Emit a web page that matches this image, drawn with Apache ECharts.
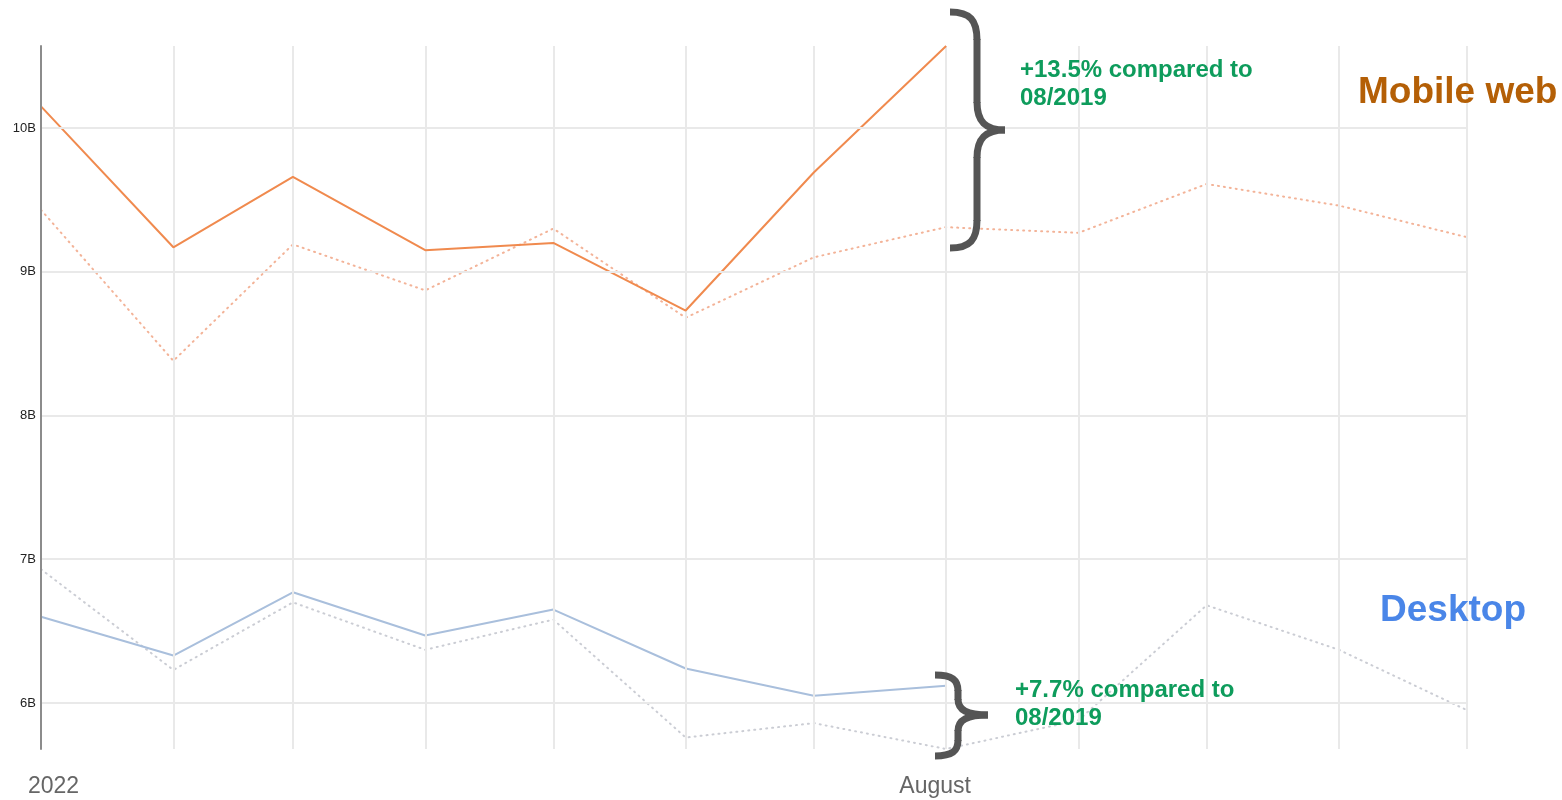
<!DOCTYPE html>
<html>
<head>
<meta charset="utf-8">
<title>Mobile web vs Desktop, 2022 vs 2019</title>
<script src="https://cdn.jsdelivr.net/npm/echarts@6/dist/echarts.min.js"></script>
<style>
  html, body { margin: 0; padding: 0; background: #ffffff; }
  #chart { width: 1562px; height: 800px; }
</style>
</head>
<body>
<div id="chart"></div>
<script>
// Month starts of 2022 (the time axis spaces them by real day counts)
const months = [
  '2022-01-01', '2022-02-01', '2022-03-01', '2022-04-01', '2022-05-01', '2022-06-01',
  '2022-07-01', '2022-08-01', '2022-09-01', '2022-10-01', '2022-11-01', '2022-12-01'
];

// Monthly visits, in billions
const mobile2022  = [10.15, 9.17, 9.66, 9.15, 9.20, 8.73, 9.69, 10.57];
const mobile2019  = [9.43, 8.38, 9.19, 8.87, 9.30, 8.68, 9.10, 9.31, 9.27, 9.61, 9.46, 9.24];
const desktop2022 = [6.60, 6.33, 6.77, 6.47, 6.65, 6.24, 6.05, 6.12];
const desktop2019 = [6.93, 6.23, 6.70, 6.37, 6.58, 5.76, 5.86, 5.68, 5.88, 6.68, 6.37, 5.95];

// x-axis captions: month index -> caption
const xCaptions = [
  { month: 0, text: '2022' },
  { month: 7, text: 'August' }
];

const yMin = 5.68;
const yMax = 10.57;

const pair = (vals) => vals.map((v, i) => [months[i], v]);

const chart = echarts.init(document.getElementById('chart'), null, { renderer: 'canvas' });

const baseFont = '"Liberation Sans", Arial, Helvetica, sans-serif';

chart.setOption({
  animation: false,
  backgroundColor: '#ffffff',
  grid: { left: 41, right: 95, top: 46, bottom: 51, containLabel: false },
  xAxis: {
    type: 'time',
    min: months[0],
    max: months[months.length - 1],
    axisLine: { show: false },
    axisTick: { show: false },
    axisLabel: { show: false },
    splitLine: { show: false }
  },
  yAxis: {
    type: 'value',
    min: yMin,
    max: yMax,
    z: 10,
    axisLine: { show: true, lineStyle: { color: '#8c8c8c', width: 2 } },
    axisTick: { show: false },
    axisLabel: {
      show: true,
      margin: 5,
      color: '#222222',
      fontSize: 13,
      fontFamily: baseFont,
      showMinLabel: false,
      showMaxLabel: false,
      formatter: (v) => (Number.isInteger(v) ? v + 'B' : '')
    },
    splitLine: {
      show: true,
      showMinLine: false,
      showMaxLine: false,
      lineStyle: { color: '#e9e9e9', width: 2 }
    }
  },
  series: [
    {
      // vertical month grid
      name: 'months',
      type: 'line',
      data: pair(mobile2019),
      showSymbol: false,
      silent: true,
      z: 1,
      lineStyle: { opacity: 0 },
      markLine: {
        silent: true,
        symbol: ['none', 'none'],
        label: { show: false },
        lineStyle: { color: '#e9e9e9', width: 2, type: 'solid' },
        data: months.slice(1).map((m) => ({ xAxis: m }))
      }
    },
    {
      name: 'Mobile web 2019',
      type: 'line',
      data: pair(mobile2019),
      showSymbol: false,
      z: 3,
      lineStyle: { color: '#f3b398', width: 2, type: [1, 5], cap: 'round' }
    },
    {
      name: 'Desktop 2019',
      type: 'line',
      data: pair(desktop2019),
      showSymbol: false,
      z: 3,
      lineStyle: { color: '#cbcdd4', width: 2, type: [1, 5], cap: 'round' }
    },
    {
      name: 'Desktop 2022',
      type: 'line',
      data: pair(desktop2022),
      showSymbol: false,
      z: 4,
      lineStyle: { color: '#a9bfdc', width: 2 }
    },
    {
      name: 'Mobile web 2022',
      type: 'line',
      data: pair(mobile2022),
      showSymbol: false,
      z: 5,
      lineStyle: { color: '#f08a4e', width: 2 }
    }
  ]
});

// Annotations: captions under the axis, braces, notes and series names
const green = '#0e9c5c';
const braceColor = '#555555';
const graphics = [];

xCaptions.forEach((c) => {
  const px = chart.convertToPixel({ xAxisIndex: 0 }, months[c.month]);
  graphics.push({
    type: 'text',
    style: {
      text: c.text,
      x: c.month === 0 ? px - 13 : px - 11,
      y: 787,
      align: c.month === 0 ? 'left' : 'center',
      verticalAlign: 'middle',
      fontFamily: baseFont,
      fontSize: 23,
      fill: '#666666'
    }
  });
});

// A curly brace opening to the left, tip pointing right at (tipX, midY)
function brace(leftX, stemX, tipX, topY, midY, botY, curve) {
  const st = { stroke: braceColor, lineWidth: 7, fill: null, lineCap: 'butt' };
  const parts = [
    { x1: leftX, y1: topY, cpx1: leftX + (stemX - leftX) * 0.75, cpy1: topY, cpx2: stemX, cpy2: topY + curve * 0.3, x2: stemX, y2: topY + curve },
    { x1: stemX, y1: midY - curve, cpx1: stemX, cpy1: midY - curve * 0.3, cpx2: stemX + (tipX - stemX) * 0.3, cpy2: midY, x2: tipX, y2: midY },
    { x1: tipX, y1: midY, cpx1: stemX + (tipX - stemX) * 0.3, cpy1: midY, cpx2: stemX, cpy2: midY + curve * 0.3, x2: stemX, y2: midY + curve },
    { x1: stemX, y1: botY - curve, cpx1: stemX, cpy1: botY - curve * 0.3, cpx2: leftX + (stemX - leftX) * 0.75, cpy2: botY, x2: leftX, y2: botY }
  ];
  const out = parts.map((shape) => ({ type: 'bezierCurve', shape, style: st, z: 10 }));
  out.push({ type: 'line', shape: { x1: stemX, y1: topY + curve - 1, x2: stemX, y2: midY - curve + 1 }, style: st, z: 10 });
  out.push({ type: 'line', shape: { x1: stemX, y1: midY + curve - 1, x2: stemX, y2: botY - curve + 1 }, style: st, z: 10 });
  return out;
}

graphics.push(...brace(950, 977, 1005, 12, 130, 248, 28));
graphics.push(...brace(935, 958, 988, 675, 715, 756, 16));

const noteStyle = {
  fontFamily: baseFont,
  fontWeight: 'bold',
  fontSize: 24,
  lineHeight: 28,
  verticalAlign: 'top',
  fill: green
};

graphics.push(
  {
    type: 'text',
    style: Object.assign({ text: '+13.5% compared to\n08/2019', x: 1020, y: 56 }, noteStyle),
    z: 10
  },
  {
    type: 'text',
    style: Object.assign({ text: '+7.7% compared to\n08/2019', x: 1015, y: 676 }, noteStyle),
    z: 10
  },
  {
    type: 'text',
    style: {
      text: 'Mobile web',
      x: 1358, y: 93,
      verticalAlign: 'middle',
      fontFamily: baseFont,
      fontWeight: 'bold',
      fontSize: 37,
      fill: '#b45f06'
    },
    z: 10
  },
  {
    type: 'text',
    style: {
      text: 'Desktop',
      x: 1380, y: 611,
      verticalAlign: 'middle',
      fontFamily: baseFont,
      fontWeight: 'bold',
      fontSize: 37,
      fill: '#4a86e8'
    },
    z: 10
  }
);

chart.setOption({ graphic: graphics });
</script>
</body>
</html>
